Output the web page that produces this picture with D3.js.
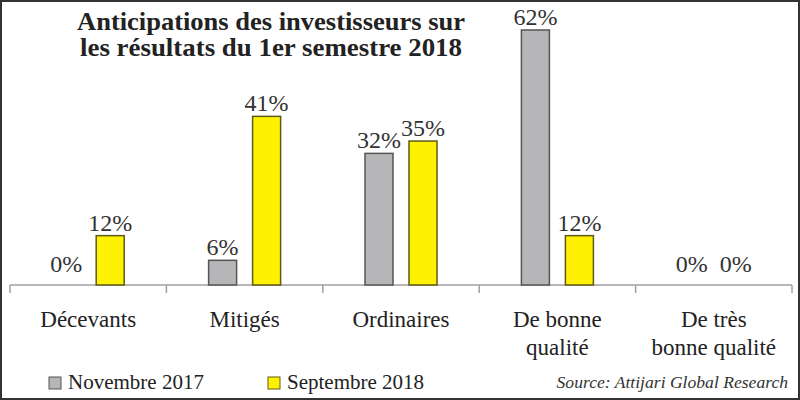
<!DOCTYPE html>
<html><head><meta charset="utf-8">
<script src="https://cdn.jsdelivr.net/npm/d3@7"></script>
<style>body{margin:0;background:#fff}svg{display:block}</style>
</head><body>
<script>
const categories = [["Décevants"], ["Mitigés"], ["Ordinaires"], ["De bonne", "qualité"], ["De très", "bonne qualité"]];
const seriesNames = ["Novembre 2017", "Septembre 2018"];
const nov2017 = [0, 6, 32, 62, 0];
const sep2018 = [12, 41, 35, 12, 0];
const titleLines = ["Anticipations des investisseurs sur", "les résultats du 1er semestre 2018"];
const sourceText = "Source: Attijari Global Research";

const W = 800, H = 400;
const colors = ["#b6b6b9", "#fff200"];
const strokes = ["#555555", "#5e5a1a"];
const svg = d3.select("body").append("svg").attr("width", W).attr("height", H);
svg.append("rect").attr("x", 1).attr("y", 1).attr("width", W - 2).attr("height", H - 2)
  .attr("fill", "#fff").attr("stroke", "#333").attr("stroke-width", 2);

const x = d3.scaleBand().domain(d3.range(categories.length)).range([10, 792]).padding(0);
const y = d3.scaleLinear().domain([0, 62]).range([285, 30]);
const offsets = [-22, 22];
const barW = 28;
const serif = "'Liberation Serif', 'Times New Roman', serif";

// axis
svg.append("line").attr("x1", 10).attr("x2", 792).attr("y1", y(0)).attr("y2", y(0))
  .attr("stroke", "#a0a0a0").attr("stroke-width", 1.5);
const tickPos = d3.range(categories.length + 1).map(i => i < categories.length ? x(i) : x(categories.length - 1) + x.bandwidth());
svg.selectAll(".tick").data(tickPos).join("line")
  .attr("x1", d => d).attr("x2", d => d).attr("y1", y(0)).attr("y2", y(0) + 8)
  .attr("stroke", "#a0a0a0").attr("stroke-width", 1.5);

[nov2017, sep2018].forEach((vals, s) => {
  const g = svg.append("g");
  vals.forEach((v, i) => {
    const cx = x(i) + x.bandwidth() / 2 + offsets[s];
    if (v > 0) {
      g.append("rect").attr("x", cx - barW / 2).attr("y", y(v)).attr("width", barW)
        .attr("height", y(0) - y(v)).attr("fill", colors[s]).attr("stroke", strokes[s]).attr("stroke-width", 1.5);
    }
    g.append("text").attr("x", cx).attr("y", y(v) - (v > 0 ? 5 : 13))
      .attr("text-anchor", "middle").attr("font-family", serif).attr("font-size", 24)
      .attr("fill", "#333").text(v + "%");
  });
});

// category labels
categories.forEach((lines, i) => {
  const t = svg.append("text").attr("x", x(i) + x.bandwidth() / 2).attr("y", 327)
    .attr("text-anchor", "middle").attr("font-family", serif).attr("font-size", 23).attr("fill", "#222");
  lines.forEach((l, k) => t.append("tspan").attr("x", x(i) + x.bandwidth() / 2).attr("dy", k ? 28 : 0).text(l));
});

// title
const tt = svg.append("text").attr("text-anchor", "middle")
  .attr("font-family", serif).attr("font-weight", "bold").attr("font-size", 25).attr("fill", "#222");
titleLines.forEach((l, k) => tt.append("tspan").attr("x", 271).attr("y", k ? 56 : 30)
  .attr("textLength", k ? 382 : 388).attr("lengthAdjust", "spacingAndGlyphs").text(l));

// legend
const legX = [49, 268];
seriesNames.forEach((n, s) => {
  svg.append("rect").attr("x", legX[s]).attr("y", 377).attr("width", 12).attr("height", 12)
    .attr("fill", colors[s]).attr("stroke", strokes[s]).attr("stroke-width", 1);
  svg.append("text").attr("x", legX[s] + 19).attr("y", 389).attr("font-family", serif)
    .attr("font-size", 21).attr("fill", "#222").text(n);
});
svg.append("text").attr("x", 788).attr("y", 388).attr("text-anchor", "end").attr("font-family", serif)
  .attr("font-style", "italic").attr("font-size", 17.6).attr("fill", "#333").text(sourceText);
</script>
</body></html>
